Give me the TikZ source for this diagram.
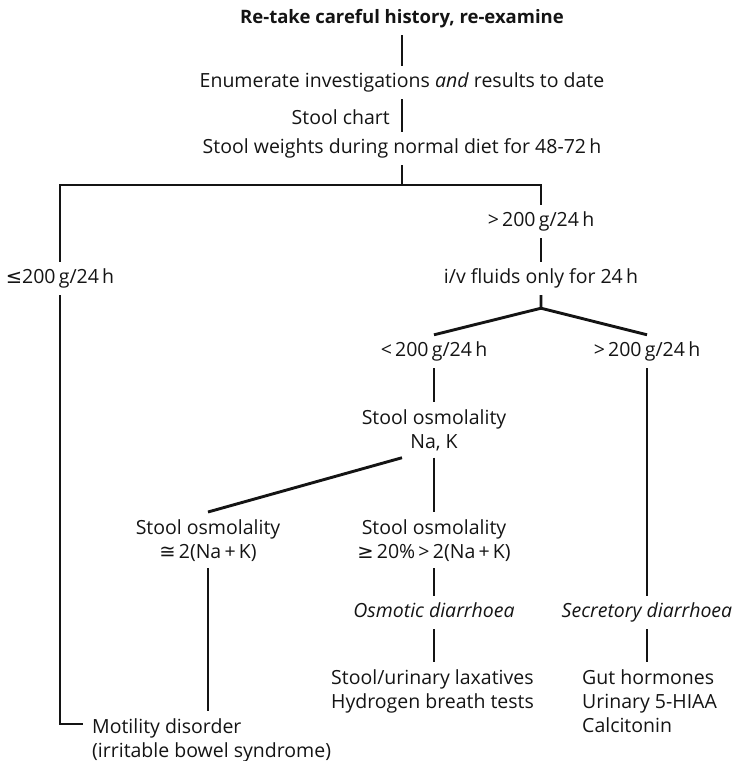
\documentclass[tikz,border=0pt]{standalone}
\usepackage{fontspec}
\setmainfont{Open Sans}
\newfontfamily\symfont{DejaVu Sans}
\usetikzlibrary{positioning,calc}
\definecolor{ink}{HTML}{141414}
\tikzset{
  lbl/.style={font=\fontsize{19.5}{24}\selectfont, text=ink, inner xsep=3pt, inner ysep=7pt,
              text height=14pt, text depth=5pt, anchor=base},
  lblc/.style={font=\fontsize{19.5}{24}\selectfont, text=ink, inner xsep=3pt, inner ysep=7pt,
               align=center, anchor=north},
  lbll/.style={lblc, align=left, anchor=north west},
  head/.style={lbl, font=\fontsize{18.5}{24}\selectfont\bfseries},
  ln/.style={draw=ink, line width=2.9pt},
}
\newcommand{\sym}[1]{{\symfont #1}}

\begin{document}
\begin{tikzpicture}[x=1pt,y=-1pt]
\useasboundingbox (0,0) rectangle (740,761);
% ---- top of the tree ----
\node[head] (title)  at (402,23)  {Re-take careful history, re-examine};
\node[lbl] (enum)    at (402,87)  {Enumerate investigations \textit{and} results to date};
\node[lbl, anchor=base east] (chart) at (393,124) {Stool chart};
\node[lbl] (weights) at (402,153) {Stool weights during normal diet for 48-72\,h};
\coordinate (split) at (402,185);
% ---- left and right branch ----
\node[lbl] (le)  at (60,283)  {\sym{≤}200\,g/24\,h};
\node[lbl] (gt1) at (541,226) {>\,200\,g/24\,h};
\node[lbl] (iv)  at (541,283) {i/v fluids only for 24\,h};
\node[lbl] (lt)  at (434,356) {<\,200\,g/24\,h};
\node[lbl] (gt2) at (647,356) {>\,200\,g/24\,h};
% ---- osmolality ----
\node[lblc] (osm1) at (434,402) {Stool osmolality\\Na, K};
\node[lblc] (osm2) at (208,512) {Stool osmolality\\\sym{≅}\,2(Na\,+\,K)};
\node[lblc] (osm3) at (434,512) {Stool osmolality\\\sym{≥}\,20\%\,>\,2(Na\,+\,K)};
% ---- outcomes ----
\node[lbl] (osmo) at (434,617) {\textit{Osmotic diarrhoea}};
\node[lbl] (sec)  at (647,617) {\textit{Secretory diarrhoea}};
\node[lbll] (tests) at (328,662) {Stool/urinary laxatives\\Hydrogen breath tests};
\node[lbll] (horm)  at (579,662) {Gut hormones\\Urinary 5-HIAA\\Calcitonin};
\node[lbll] (mot)   at (89,711)  {Motility disorder\\(irritable bowel syndrome)};
% ---- connectors ----
\draw[ln] (title) -- (enum);
\draw[ln] (enum) -- (weights);
\draw[ln] (weights) -- (split);
\draw[ln] (le.north) |- (split) -| (gt1.north);
\draw[ln] (le.south) |- ([xshift=-6pt,yshift=-13pt]mot.north west);
\draw[ln] (gt1) -- (iv);
\draw[ln] (iv.south) -- ++(0,13) coordinate (fork) -- (lt.north);
\draw[ln] (fork) -- (gt2.north);
\draw[ln] (lt) -- (osm1);
\draw[ln] (osm1) -- (osm3);
\draw[ln] ([xshift=-32pt]osm1.south) -- (osm2.north);
\draw[ln] (osm2.south) -- (osm2.south |- mot.north);
\draw[ln] (osm3) -- (osmo);
\draw[ln] (osmo.south) -- (osmo.south |- tests.north);
\draw[ln] (gt2) -- (sec);
\draw[ln] (sec.south) -- (sec.south |- horm.north);
\end{tikzpicture}
\end{document}
